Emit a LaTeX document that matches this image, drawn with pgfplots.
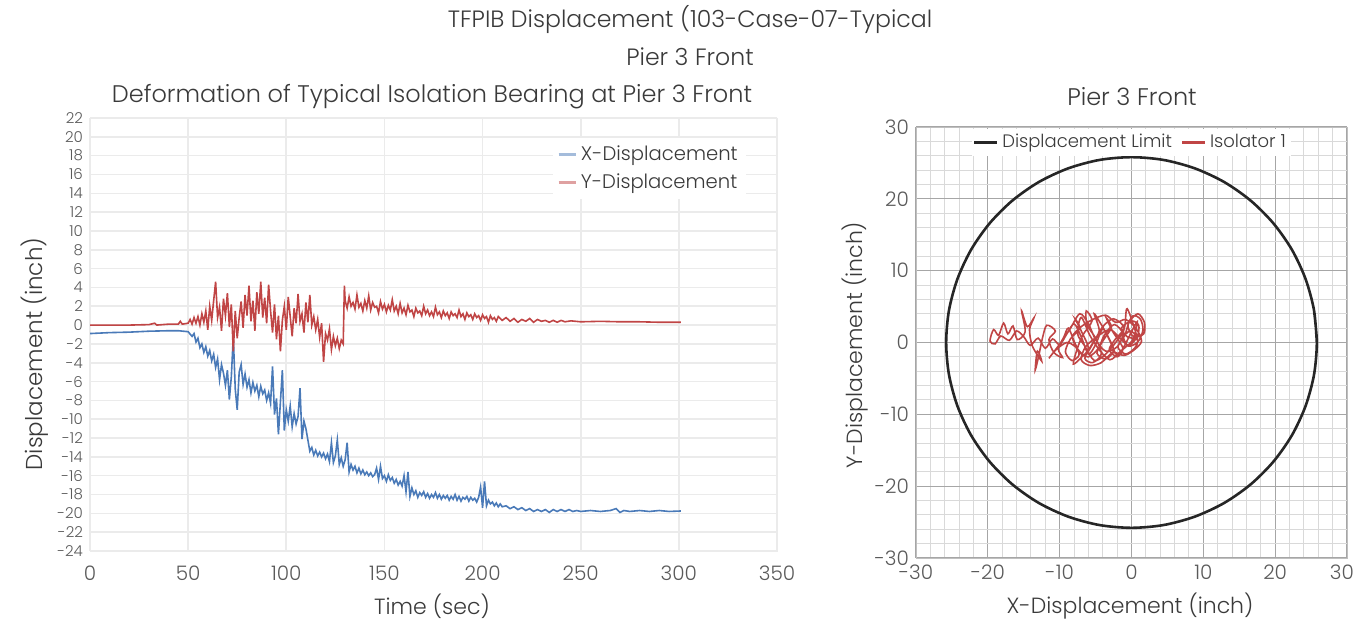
\documentclass[border=0pt]{standalone}
\usepackage{pgfplots}
\pgfplotsset{compat=1.18}
\usepackage{fontspec}
\setmainfont{Poppins}[UprightFont=* Light]
\definecolor{xblue}{HTML}{4A7AB8}
\definecolor{yred}{HTML}{C04545}
\definecolor{txt}{HTML}{3A3A3A}
\definecolor{tick}{HTML}{5A5A5A}
\begin{document}
\begin{tikzpicture}
\path[use as bounding box] (0,0) rectangle (677.5pt,313pt);
% titles
\node[txt,font=\fontsize{11.8}{13}\selectfont] at (345pt,303pt) {TFPIB Displacement (103-Case-07-Typical};
\node[txt,font=\fontsize{11.8}{13}\selectfont] at (345pt,284.5pt) {Pier 3 Front};
\node[txt,font=\fontsize{12}{13}\selectfont] at (216pt,264.5pt) {Deformation of Typical Isolation Bearing at Pier 3 Front};
\node[txt,font=\fontsize{12}{13}\selectfont] at (566pt,264.5pt) {Pier 3 Front};
\node[txt,font=\fontsize{11}{12}\selectfont] at (216pt,10pt) {Time (sec)};
\node[txt,font=\fontsize{11}{12}\selectfont] at (565pt,10pt) {X-Displacement (inch)};
\node[txt,font=\fontsize{11.5}{12}\selectfont,rotate=90] at (17.5pt,136pt) {Displacement (inch)};
\node[txt,font=\fontsize{11}{12}\selectfont,rotate=90] at (427.5pt,140.5pt) {Y-Displacement (inch)};

\begin{axis}[at={(45pt,37.5pt)},anchor=south west,scale only axis,
  width=343.5pt,height=216.5pt,
  xmin=0,xmax=350,ymin=-24,ymax=22,
  xtick={0,50,...,350},ytick={-24,-22,...,22},
  grid=major,major grid style={draw=black!8,line width=0.8pt},
  axis line style={draw=black!8},tick style={draw=none},
  /pgf/number format/assume math mode=true,
  xticklabel style={font=\fontsize{10}{11}\selectfont,text=tick,yshift=-4pt},
  yticklabel style={font=\fontsize{7.5}{8}\selectfont,text=tick},
  legend style={at={(0.955,0.955)},anchor=north east,draw=none,fill=white,
    font=\fontsize{9.8}{11}\selectfont,text=txt,row sep=1pt,inner sep=2pt},
  legend cell align=left,
  legend image code/.code={\draw[#1,line width=1.3pt,opacity=0.5] (0,0) -- (0.3cm,0);},
]
\addplot[xblue,line width=0.8pt] coordinates {
(0,-0.9)(10,-0.8)(20,-0.75)(30,-0.65)(40,-0.6)(45,-0.6)(50,-0.7)(52,-1.2)(53,-0.9)(54,-1.8)
(55,-1.4)(56,-2.4)(57,-2.0)(58,-2.9)(59,-2.3)(60,-3.3)(61,-2.7)(62,-3.8)(63,-3.1)(64,-4.5)
(65,-3.6)(66,-5.8)(67,-4.2)(68,-5.1)(69,-6.4)(70,-4.8)(71,-7.9)(72,-5.5)(73,-1.2)(74,-6.8)
(75,-9.0)(76,-5.0)(77,-4.2)(78,-6.3)(79,-5.2)(80,-6.6)(81,-5.8)(82,-7.2)(83,-6.1)(84,-7.0)
(85,-6.4)(86,-7.6)(87,-6.5)(88,-7.3)(89,-6.9)(90,-8.0)(91,-7.2)(92,-8.3)(93,-4.4)(94,-9.5)
(95,-7.8)(96,-11.6)(97,-8.2)(98,-4.8)(99,-11.2)(100,-9.0)(101,-10.2)(102,-8.6)(103,-10.8)(104,-9.4)
(105,-10.5)(106,-9.7)(107,-6.7)(108,-12.1)(109,-10.2)(110,-11.0)(111,-12.2)(112,-13.4)(113,-13.0)(114,-13.8)
(115,-13.3)(116,-13.9)(117,-13.5)(118,-14.0)(119,-13.6)(120,-14.2)(121,-13.7)(122,-14.5)(123,-12.5)(124,-14.6)
(125,-13.9)(126,-12.2)(127,-14.8)(128,-14.1)(129,-15.0)(130,-14.3)(131,-12.5)(132,-15.6)(133,-14.8)(134,-15.4)
(135,-15.0)(136,-15.7)(137,-15.2)(138,-15.8)(139,-15.4)(140,-15.9)(141,-15.6)(142,-16.0)(143,-15.7)(144,-16.1)
(145,-15.9)(146,-15.2)(147,-16.4)(148,-15.0)(149,-16.3)(150,-16.0)(151,-16.6)(152,-15.9)(153,-16.5)(154,-16.2)
(155,-16.8)(156,-16.4)(157,-17.0)(158,-16.6)(159,-17.1)(160,-16.0)(161,-17.7)(162,-15.6)(163,-18.2)(164,-17.3)
(165,-18.0)(166,-17.6)(167,-18.3)(168,-17.8)(169,-18.1)(170,-17.7)(171,-18.3)(172,-17.9)(173,-18.4)(174,-18.0)
(175,-18.3)(176,-17.8)(177,-18.4)(178,-18.0)(179,-18.5)(180,-18.1)(181,-18.4)(182,-18.1)(183,-18.6)(184,-18.2)
(185,-18.5)(186,-18.0)(187,-18.6)(188,-18.2)(189,-18.7)(190,-18.3)(191,-18.5)(192,-18.2)(193,-18.7)(194,-18.3)
(195,-18.6)(196,-18.4)(197,-18.8)(198,-18.3)(199,-17.2)(200,-19.4)(201,-16.6)(202,-19.2)(203,-18.6)(204,-19.0)
(205,-18.8)(206,-19.2)(207,-18.9)(208,-19.3)(209,-19.0)(210,-19.3)(212,-19.2)(214,-19.5)(216,-19.3)(218,-19.6)
(220,-19.4)(222,-19.7)(224,-19.5)(226,-19.8)(228,-19.6)(230,-19.8)(232,-19.6)(234,-19.9)(236,-19.6)(238,-19.8)
(240,-19.6)(242,-19.8)(244,-19.6)(246,-19.8)(248,-19.7)(250,-19.8)(255,-19.7)(260,-19.8)(265,-19.7)(268,-19.5)
(270,-19.9)(272,-19.7)(275,-19.8)(280,-19.7)(285,-19.8)(290,-19.7)(295,-19.8)(301,-19.75)
};
\addlegendentry{X-Displacement}
\addplot[yred,line width=0.8pt] coordinates {
(0,0.0)(10,0.0)(20,0.0)(30,0.05)(33,0.2)(34,0.0)(40,0.1)(45,0.1)(46,0.4)(47,0.1)
(50,0.2)(51,0.6)(52,0.1)(53,0.8)(54,0.2)(55,0.9)(56,0.0)(57,1.2)(58,0.3)(59,1.5)
(60,-0.5)(61,2.0)(62,0.5)(63,2.6)(64,4.6)(65,0.8)(66,1.9)(67,-0.6)(68,2.8)(69,1.0)
(70,3.4)(71,-0.2)(72,2.2)(73,-2.8)(74,1.5)(75,-1.4)(76,0.8)(77,2.5)(78,-0.3)(79,3.2)
(80,1.0)(81,4.2)(82,0.4)(83,2.6)(84,-0.6)(85,3.5)(86,1.2)(87,4.6)(88,0.8)(89,2.9)
(90,0.2)(91,4.3)(92,1.5)(93,-0.8)(94,2.2)(95,-1.5)(96,1.0)(97,-2.8)(98,0.5)(99,2.0)
(100,-0.5)(101,3.0)(102,0.9)(103,-1.2)(104,1.8)(105,0.2)(106,3.3)(107,0.4)(108,1.2)(109,-0.8)
(110,2.4)(111,0.3)(112,3.2)(113,0.0)(114,0.9)(115,-0.5)(116,0.6)(117,-1.3)(118,0.2)(119,-3.9)
(120,-0.9)(121,-1.6)(122,-0.4)(123,-2.6)(124,-1.2)(125,-2.2)(126,-1.4)(127,-2.5)(128,-1.6)(129,-2.0)
(129.6,4.2)(130,2.6)(131,1.8)(132,3.0)(133,2.0)(134,2.4)(135,1.7)(136,3.2)(137,1.9)(138,2.3)
(139,1.5)(140,2.6)(141,1.8)(142,3.1)(143,1.6)(144,2.4)(145,1.9)(146,2.0)(147,1.3)(148,2.5)
(149,1.7)(150,2.2)(151,1.4)(152,2.1)(153,1.6)(154,2.7)(155,1.5)(156,2.0)(157,1.2)(158,2.3)
(159,1.3)(160,1.8)(161,1.1)(162,2.1)(163,1.4)(164,1.6)(165,0.9)(166,1.8)(167,1.3)(168,1.5)
(169,1.0)(170,2.0)(171,1.2)(172,1.6)(173,1.0)(174,1.4)(175,0.9)(176,1.9)(177,1.1)(178,1.4)
(179,0.8)(180,1.5)(181,1.0)(182,1.3)(183,0.7)(184,1.4)(185,1.0)(186,1.2)(187,0.8)(188,1.6)
(189,0.9)(190,1.2)(191,0.6)(192,1.3)(193,0.9)(194,1.1)(195,0.6)(196,1.2)(197,0.8)(198,1.0)
(199,0.5)(200,1.1)(201,0.7)(202,0.9)(203,0.3)(204,1.0)(205,0.6)(206,0.8)(207,0.4)(208,0.9)
(210,0.5)(212,0.8)(214,0.4)(216,0.7)(218,0.3)(220,0.6)(222,0.4)(224,0.7)(226,0.3)(228,0.6)
(230,0.4)(232,0.5)(234,0.3)(236,0.5)(238,0.3)(240,0.5)(242,0.35)(245,0.45)(250,0.35)(260,0.4)
(270,0.35)(280,0.35)(290,0.3)(301,0.3)
};
\addlegendentry{Y-Displacement}
\end{axis}

\begin{axis}[at={(458pt,34pt)},anchor=south west,scale only axis,
  width=215.5pt,height=215.5pt,
  xmin=-30,xmax=30,ymin=-30,ymax=30,
  xtick={-30,-20,...,30},ytick={-30,-20,...,30},
  xticklabels={-30,-20,-10,0,10,20,{\hspace*{-5pt}30}},
  minor tick num=4,
  grid=both,major grid style={draw=black!35,line width=0.6pt},
  minor grid style={draw=black!15,line width=0.5pt},
  axis line style={draw=black!25},tick style={draw=none},
  /pgf/number format/assume math mode=true,
  xticklabel style={font=\fontsize{10}{11}\selectfont,text=tick},
  yticklabel style={font=\fontsize{10}{11}\selectfont,text=tick},
  legend style={at={(0.5,0.997)},anchor=north,draw=none,fill=white,
    font=\fontsize{9}{10}\selectfont,text=txt,inner sep=0.8pt},
  legend columns=2,
  legend image code/.code={\draw[#1,line width=1.2pt] (0,0) -- (0.4cm,0);},
]
\addplot[black!85,line width=1.3pt,smooth] coordinates {
(25.8,0)(25.41,4.48)(24.24,8.82)(22.34,12.9)(19.76,16.58)(16.58,19.76)(12.9,22.34)(8.82,24.24)(4.48,25.41)(0,25.8)
(-4.48,25.41)(-8.82,24.24)(-12.9,22.34)(-16.58,19.76)(-19.76,16.58)(-22.34,12.9)(-24.24,8.82)(-25.41,4.48)(-25.8,0)
(-25.41,-4.48)(-24.24,-8.82)(-22.34,-12.9)(-19.76,-16.58)(-16.58,-19.76)(-12.9,-22.34)(-8.82,-24.24)(-4.48,-25.41)(0,-25.8)
(4.48,-25.41)(8.82,-24.24)(12.9,-22.34)(16.58,-19.76)(19.76,-16.58)(22.34,-12.9)(24.24,-8.82)(25.41,-4.48)(25.8,0)(25.41,4.48)
};
\addlegendentry{Displacement Limit\ \ }
\addplot[yred,line width=0.8pt,smooth] coordinates {
(0.0,0.0)(0.6,0.9)(-0.2,1.6)(-1.1,0.7)(-0.4,-0.5)(0.9,0.1)(1.6,1.8)(1.2,3.3)(0.2,3.7)(-0.5,2.3)
(0.3,0.8)(1.7,1.2)(1.8,2.8)(0.9,4.0)(-0.3,2.9)(-0.9,1.1)(-1.9,-0.6)(-0.8,-1.6)(0.5,-0.7)(0.8,0.6)
(-0.6,4.7)(-1.0,2.0)(-2.3,0.4)(-3.1,-1.0)(-2.0,-2.0)(-1.2,-0.8)(-2.6,1.5)(-3.5,3.4)(-2.8,2.1)(-4.0,0.2)
(-4.8,-1.5)(-3.6,-2.3)(-2.5,-1.1)(-3.3,0.9)(-4.4,2.8)(-5.2,4.0)(-4.5,1.6)(-5.6,-0.4)(-6.5,-2.2)(-5.4,-2.8)
(-4.2,-1.6)(-5.0,0.6)(-6.2,2.5)(-6.3,4.4)(-5.5,3.0)(-6.8,1.0)(-7.6,-1.0)(-8.1,-3.0)(-7.0,-2.1)(-6.0,-0.8)
(-6.9,1.4)(-7.8,3.2)(-7.2,2.0)(-8.5,0.5)(-9.2,-1.3)(-8.3,-2.5)(-7.3,-1.7)(-8.0,0.2)(-8.8,2.0)(-9.4,0.8)
(-10.2,-0.9)(-9.6,-2.1)(-10.8,-1.4)(-11.5,0.4)(-10.6,1.6)(-11.8,2.4)(-12.4,0.6)(-12.9,-1.8)(-13.4,-3.8)(-13.1,-1.2)
(-12.5,-2.6)(-13.8,-0.5)(-14.2,1.8)(-13.6,3.4)(-14.5,2.2)(-15.3,4.4)(-14.8,1.5)(-15.9,0.4)(-16.5,2.3)(-17.2,1.2)
(-17.8,2.7)(-18.5,1.0)(-19.2,1.8)(-19.7,0.2)(-19.0,-0.2)(-18.2,0.9)(-17.0,0.3)(-16.0,1.6)(-15.0,0.8)(-14.1,-0.4)
(-13.0,0.6)(-12.0,-0.8)(-11.0,0.5)(-10.0,-0.3)(-9.0,1.2)(-8.0,2.6)(-7.0,0.8)(-6.0,-1.6)(-5.0,-0.3)(-4.0,1.9)
(-3.0,0.2)(-2.0,-1.8)(-1.0,-0.5)(0.0,1.5)(0.8,2.9)(0.2,0.4)(-1.5,-1.2)(-3.0,-2.4)(-4.5,-1.0)(-5.8,1.0)
(-7.0,3.5)(-7.5,1.2)(-6.5,-0.5)(-5.2,-2.5)(-3.8,-1.8)(-2.2,0.0)(-1.0,2.0)(-2.5,3.3)(-4.0,2.2)(-5.3,0.0)
(-6.5,-1.8)(-7.8,-0.6)(-9.0,0.0)(-10.5,-1.0)(-11.5,-2.2)(-10.2,-0.5)(-8.6,1.8)(-7.2,4.0)(-6.0,2.6)(-5.0,0.4)
(-3.6,-1.2)(-2.0,-0.6)(-1.2,1.2)(-2.4,2.5)(-3.8,1.0)(-4.6,-0.8)(-6.0,-2.0)(-7.4,-1.2)(-8.2,0.8)(-7.0,2.2)
(-5.4,3.2)(-3.6,3.8)(-2.2,2.8)(-0.8,3.2)(0.6,2.0)(1.4,0.2)(0.4,-1.0)(-1.0,-1.8)(-2.6,-1.4)(-4.2,-2.8)
(-5.8,-3.2)(-7.0,-2.4)(-6.4,-0.6)(-4.8,0.8)(-3.0,1.8)(-1.6,0.6)(-0.4,-0.4)(0.8,0.8)(1.0,2.4)(0.0,3.0)
(-1.4,2.0)(-0.6,0.8)(0.4,0.6)
};
\addlegendentry{Isolator 1}
\end{axis}
\end{tikzpicture}
\end{document}
